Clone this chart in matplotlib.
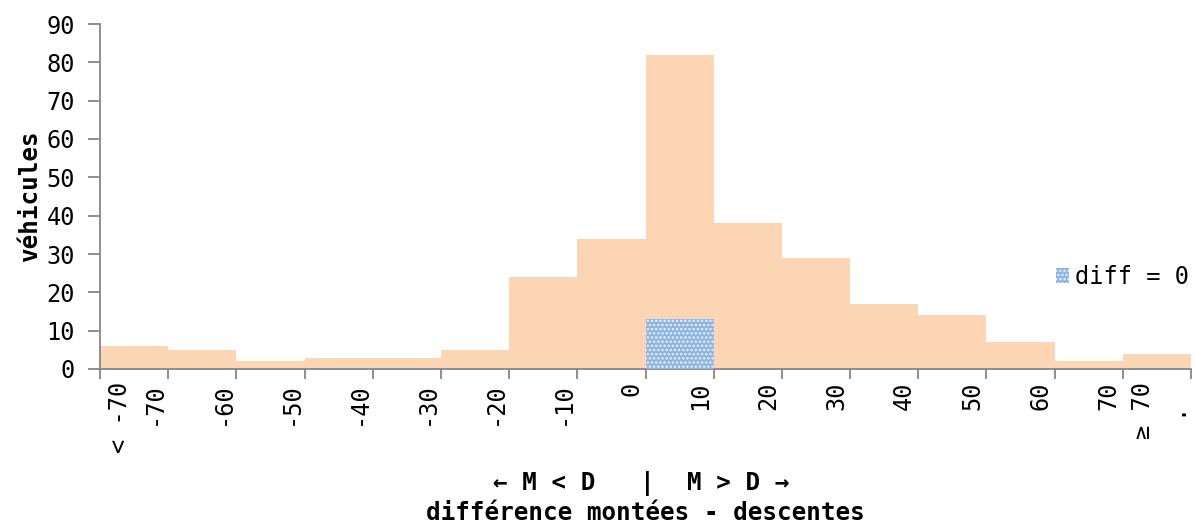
import matplotlib
matplotlib.use("Agg")
import matplotlib.pyplot as plt
from matplotlib.transforms import ScaledTranslation
from matplotlib.patches import Patch

# Histogram of (boardings - alightings) per vehicle, 10-wide classes
bin_labels_edges = ["-70", "-60", "-50", "-40", "-30", "-20", "-10", "0",
                    "10", "20", "30", "40", "50", "60", "70"]
low_label = "< -70"
high_label = "≥ 70"
counts = [6, 5, 2, 3, 3, 5, 24, 34, 82, 38, 29, 17, 14, 7, 2, 4]
zero_diff_bin = 8          # class [0, 10)
zero_diff_count = 13

peach = "#FCD5B5"
blue = "#8DB4E2"
grey = "#868686"
mono = ["DejaVu Sans Mono"]
fs = 17
fsb = 17.5

plt.rcParams["hatch.linewidth"] = 1.2

W, H = 1195, 525
fig = plt.figure(figsize=(W / 100, H / 100), dpi=100)
ax = fig.add_axes([100 / W, 156 / H, 1091 / W, 345 / H])

n = len(counts)
ax.bar([i + 0.5 for i in range(n)], counts, width=1.0, color=peach,
       linewidth=0, zorder=2)
ax.bar([zero_diff_bin + 0.5], [zero_diff_count], width=1.0, color=blue,
       edgecolor="#EAF1FA", hatch="....", linewidth=0, zorder=3)

ax.set_xlim(0, n)
ax.set_ylim(0, 90)
ax.set_yticks(range(0, 91, 10))
ax.set_xticks(range(0, n + 1))
ax.set_xticklabels([])

for s in ("top", "right"):
    ax.spines[s].set_visible(False)
for s in ("left", "bottom"):
    ax.spines[s].set_color(grey)
    ax.spines[s].set_linewidth(1.3)
ax.tick_params(axis="y", direction="out", length=9, width=1.3, color=grey,
               labelsize=fs, pad=9)
ax.tick_params(axis="x", direction="out", length=7, width=1.3, color=grey)
for lab in ax.get_yticklabels():
    lab.set_family(mono)

# rotated class labels under the axis
shift = ScaledTranslation(-14 / 100, -13 / 100, fig.dpi_scale_trans)
tr = ax.get_xaxis_transform() + shift
label_pos = [0.5] + list(range(1, len(bin_labels_edges) + 1)) + [n - 0.5]
label_txt = [low_label] + bin_labels_edges + [high_label]
for x, t in zip(label_pos, label_txt):
    ax.text(x, 0, t, transform=tr, rotation=90, ha="center", va="top",
            fontsize=fs, family=mono)
# trailing label at the last edge
dot_tr = ax.get_xaxis_transform() + ScaledTranslation(-17 / 100, -33 / 100,
                                                      fig.dpi_scale_trans)
ax.text(n, 0, ".", transform=dot_tr, rotation=90, ha="center", va="top",
        fontsize=fs, family=mono)

ax.set_ylabel("véhicules", fontsize=fsb, fontweight="bold", family=mono,
              labelpad=3)

fig.text(544 / W, 1 - 483 / H, "← M < D", ha="center", va="center",
         fontsize=fsb, fontweight="bold", family=mono)
fig.text(647 / W, 1 - 483 / H, "|", ha="center", va="center",
         fontsize=fsb, fontweight="bold", family=mono)
fig.text(738 / W, 1 - 483 / H, "M > D →", ha="center", va="center",
         fontsize=fsb, fontweight="bold", family=mono)
fig.text(645 / W, 1 - 513 / H, "différence montées - descentes",
         ha="center", va="center", fontsize=fsb, fontweight="bold",
         family=mono)

handle = Patch(facecolor=blue, edgecolor="#EAF1FA", hatch="....", linewidth=0)
fig.legend([handle], ["diff = 0"], loc="center left",
           bbox_to_anchor=(1056 / W, 1 - 277 / H), frameon=False,
           handlelength=0.55, handleheight=0.6, handletextpad=0.25,
           borderaxespad=0, borderpad=0, prop={"family": mono, "size": fs})

fig.savefig("out.png", dpi=100)
